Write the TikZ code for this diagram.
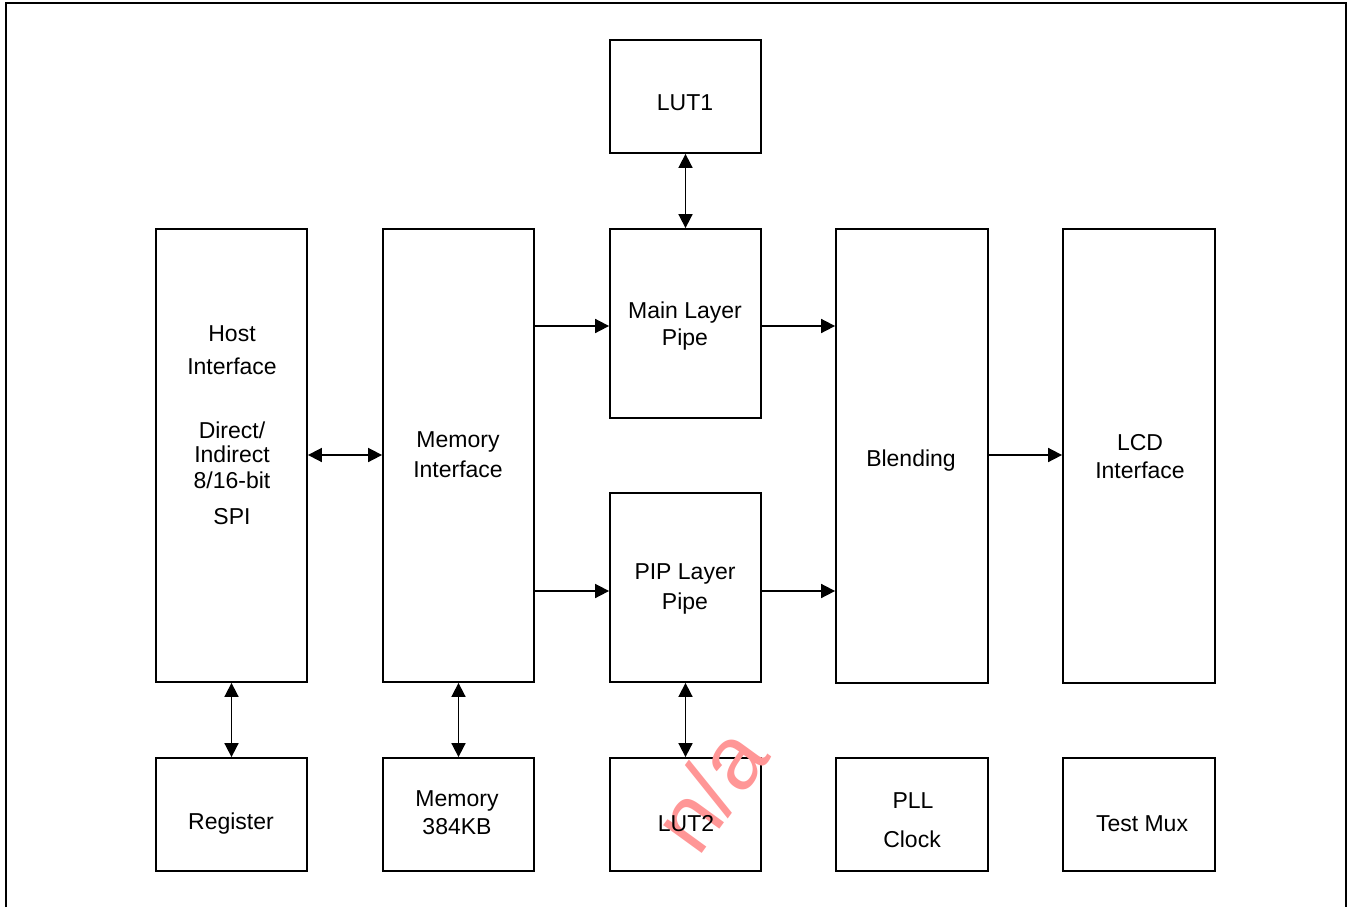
\documentclass[tikz,border=0pt]{standalone}
\usepackage{fontspec}
\setmainfont{Liberation Sans}
\usetikzlibrary{arrows.meta}
\definecolor{wm}{RGB}{255,150,150}
\begin{document}
\begin{tikzpicture}[x=1pt,y=-1pt,
  blk/.style={draw,line width=1.8pt,inner sep=0pt},
  lbl/.style={font=\fontsize{23}{27}\selectfont,inner sep=0pt,align=center},
  conn/.style={line width=1.7pt,-{Triangle[length=14pt,width=14pt]}},
  bconn/.style={line width=1.7pt,{Triangle[length=14pt,width=14pt]}-{Triangle[length=14pt,width=14pt]}}]
\useasboundingbox (0,0) rectangle (1348,907);
\draw[line width=2pt] (6,907) -- (6,3) -- (1346,3) -- (1346,907);
% boxes
\newcommand{\bx}[5]{\node[blk,minimum width=#4-#2,minimum height=#5-#3] (#1) at ({(#2+#4)/2},{(#3+#5)/2}) {};}
\bx{lut1}{610}{40}{761}{153}
\bx{host}{156}{229}{307}{682}
\bx{memif}{383}{229}{534}{682}
\bx{main}{610}{229}{761}{418}
\bx{pip}{610}{493}{761}{682}
\bx{blend}{836}{229}{988}{683}
\bx{lcd}{1063}{229}{1215}{683}
\bx{reg}{156}{758}{307}{871}
\bx{mem}{383}{758}{534}{871}
\bx{lut2}{610}{758}{761}{871}
\bx{pll}{836}{758}{988}{871}
\bx{tmux}{1063}{758}{1215}{871}
% watermark
\node[text=wm,font=\fontsize{90}{90}\selectfont,rotate=54,inner sep=0pt] (na) at (709,789) {n/a};
% labels
\node[lbl] (t1) at (685,103) {LUT1};
\node[lbl] (t2a) at (232,334) {Host};
\node[lbl] (t2b) at (232,366) {Interface};
\node[lbl] (t2c) at (232,430) {Direct/};
\node[lbl] (t2d) at (232,454) {Indirect};
\node[lbl] (t2e) at (232,480) {8/16-bit};
\node[lbl] (t2f) at (232,517) {SPI};
\node[lbl] (t3a) at (458,442) {Memory};
\node[lbl] (t3b) at (458,469) {Interface};
\node[lbl] (t4a) at (685,313) {Main Layer};
\node[lbl] (t4b) at (685,340) {Pipe};
\node[lbl] (t5a) at (685,574) {PIP Layer};
\node[lbl] (t5b) at (685,604) {Pipe};
\node[lbl] (t6) at (911,461) {Blending};
\node[lbl] (t7a) at (1140,443) {LCD};
\node[lbl] (t7b) at (1140,470) {Interface};
\node[lbl] (t8) at (231,824) {Register};
\node[lbl] (t9a) at (457,801) {Memory};
\node[lbl] (t9b) at (457,827) {384KB};
\node[lbl] (t10) at (686,824) {LUT2};
\node[lbl] (t11a) at (913,801) {PLL};
\node[lbl] (t11b) at (912,839) {Clock};
\node[lbl] (t12) at (1142,824) {Test Mux};
% connectors
\draw[conn] (memif.east |- 0,326) -- (main.west |- 0,326);
\draw[conn] (main.east |- 0,326) -- (blend.west |- 0,326);
\draw[conn] (memif.east |- 0,591) -- (pip.west |- 0,591);
\draw[conn] (pip.east |- 0,591) -- (blend.west |- 0,591);
\draw[conn] (blend.east |- 0,455) -- (lcd.west |- 0,455);
\draw[bconn] (host.east |- 0,455) -- (memif.west |- 0,455);
\draw[bconn] (lut1.south) -- (main.north);
\draw[bconn] (reg.north |- host.south) -- (reg.north);
\draw[bconn] (mem.north |- memif.south) -- (mem.north);
\draw[bconn] (pip.south) -- (lut2.north);
\end{tikzpicture}
\end{document}
